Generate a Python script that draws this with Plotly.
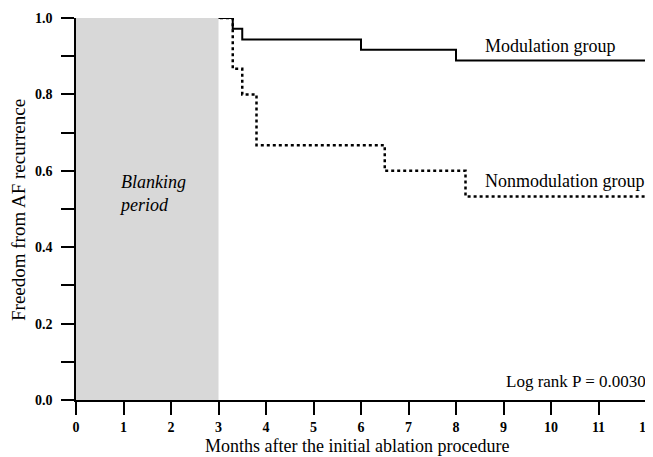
import plotly.graph_objects as go

# Data (months, survival probability)
mod_t = [0, 3.3, 3.5, 6.0, 8.0, 12]
mod_s = [1.0, 0.972, 0.944, 0.917, 0.889, 0.889]
non_t = [0, 3.3, 3.5, 3.8, 6.5, 8.2, 12]
non_s = [1.0, 0.867, 0.8, 0.667, 0.6, 0.533, 0.533]
x_ticks = list(range(0, 13))
y_ticks = [0.0, 0.2, 0.4, 0.6, 0.8, 1.0]
y_ticklabels = ["0.0", "0.2", "0.4", "0.6", "0.8", "1.0"]
blank_start, blank_end = 0, 3

FONT = "Liberation Serif"
OFF = 8  # default body margin of the html page

fig = go.Figure()
fig.add_trace(go.Scatter(x=non_t, y=non_s, mode="lines", line_shape="hv",
                         line=dict(color="black", width=2.5, dash="dot"),
                         showlegend=False, cliponaxis=False))
fig.add_trace(go.Scatter(x=mod_t, y=mod_s, mode="lines", line_shape="hv",
                         line=dict(color="black", width=2),
                         showlegend=False, cliponaxis=False))

fig.add_shape(type="rect", x0=blank_start, x1=blank_end, y0=0, y1=1,
              xref="x", yref="y", fillcolor="#d8d8d8", line_width=0, layer="above")

L, R, T, B = 76, 646, 18, 400  # page pixel positions of the plot area
W, H = 653 - OFF, 457 - OFF

fig.update_layout(
    width=W, height=H,
    margin=dict(l=L - OFF, r=653 - R, t=T - OFF, b=457 - B, autoexpand=False),
    paper_bgcolor="white", plot_bgcolor="white",
    font=dict(family=FONT, color="black"),
    xaxis=dict(range=[0, 12], tickvals=x_ticks, ticks="outside", ticklen=13,
               tickwidth=1.5, tickcolor="black", showline=True, linecolor="black",
               linewidth=1.5, showgrid=False, zeroline=False, automargin=False,
               tickfont=dict(family=FONT, size=14, weight="bold")),
    yaxis=dict(range=[0, 1], tickvals=y_ticks, ticktext=y_ticklabels,
               ticks="outside", ticklen=13, tickwidth=1.5, tickcolor="black",
               showline=True, linecolor="black", linewidth=1.5, automargin=False,
               showgrid=False, zeroline=False, ticklabelstandoff=6,
               minor=dict(dtick=0.1, tick0=0, ticks="outside", ticklen=13,
                          tickwidth=1.5, tickcolor="black", showgrid=False),
               tickfont=dict(family=FONT, size=14, weight="bold")),
)

anns = [
    dict(text="Modulation group", x=483, y=46, size=18, style="normal", xanchor="left"),
    dict(text="Nonmodulation group", x=483, y=181, size=18, style="normal", xanchor="left"),
    dict(text="Blanking", x=119, y=182, size=18, style="italic", xanchor="left"),
    dict(text="period", x=117, y=205, size=18, style="italic", xanchor="left"),
    dict(text="Log rank P = 0.0030", x=576, y=381, size=17, style="normal", xanchor="center"),
]
for a in anns:
    fig.add_annotation(text=a["text"], xref="paper", yref="paper",
                       x=(a["x"] - L) / (R - L), y=(B - a["y"]) / (B - T),
                       xanchor=a["xanchor"], yanchor="middle", showarrow=False,
                       font=dict(family=FONT, size=a["size"], style=a["style"], color="black"))

fig.add_annotation(text="Months after the initial ablation procedure", xref="paper", yref="paper",
                   x=(357 - L) / (R - L), y=(B - 446) / (B - T), xanchor="center",
                   yanchor="middle", showarrow=False, font=dict(family=FONT, size=18))
fig.add_annotation(text="Freedom from AF recurrence", xref="paper", yref="paper",
                   x=(18 - L) / (R - L), y=(B - 210) / (B - T), xanchor="center",
                   yanchor="middle", textangle=-90, showarrow=False, font=dict(family=FONT, size=19))

fig.write_html("out.html")
